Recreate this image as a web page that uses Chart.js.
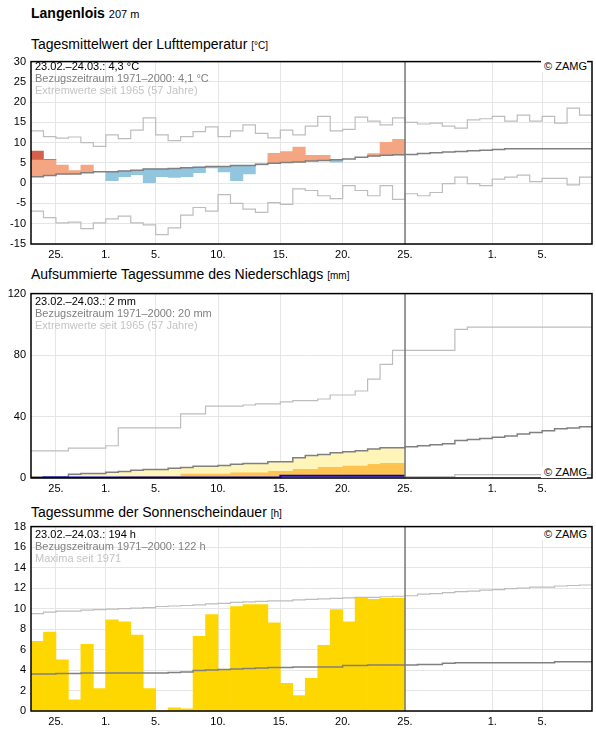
<!DOCTYPE html>
<html lang="de">
<head>
<meta charset="utf-8">
<title>Langenlois 207 m</title>
<script src="https://cdn.jsdelivr.net/npm/chart.js@4.4.1/dist/chart.umd.min.js"></script>
<style>
  body { margin: 0; background: #fff; font-family: Arial, "Liberation Sans", sans-serif; }
  #page { position: relative; width: 596px; height: 729px; overflow: hidden; }
  canvas { position: absolute; left: 0; }
  .head { position: absolute; left: 31px; font-size: 14px; line-height: 14px; white-space: nowrap; color: #000; }
  .head small { font-size: 10px; }
  .station { font-weight: bold; }
  .station span { font-weight: normal; font-size: 11px; }
  .info { position: absolute; left: 35px; font-size: 11px; line-height: 12px; white-space: nowrap; color: #000; }
  .info .ref { color: #808080; }
  .info .ext { color: #c4c4c4; }
  .zamg { position: absolute; right: 9px; font-size: 11px; line-height: 12px; white-space: nowrap; background: #fff; padding-left: 3px; }
</style>
</head>
<body>
<div id="page">
  <div class="head station" style="top:6px">Langenlois <span>207 m</span></div>

  <div class="head" style="top:37px">Tagesmittelwert der Lufttemperatur <small>[°C]</small></div>
  <canvas id="tempChart" width="596" height="210" style="top:50px"></canvas>
  <div class="info" style="top:60px">23.02.–24.03.: 4,3 °C<br><span class="ref">Bezugszeitraum 1971–2000: 4,1 °C</span><br><span class="ext">Extremwerte seit 1965 (57 Jahre)</span></div>
  <div class="zamg" style="top:60px">© ZAMG</div>

  <div class="head" style="top:267px">Aufsummierte Tagessumme des Niederschlags <small>[mm]</small></div>
  <canvas id="rainChart" width="596" height="212" style="top:282px"></canvas>
  <div class="info" style="top:295px">23.02.–24.03.: 2 mm<br><span class="ref">Bezugszeitraum 1971–2000: 20 mm</span><br><span class="ext">Extremwerte seit 1965 (57 Jahre)</span></div>
  <div class="zamg" style="top:466px">© ZAMG</div>

  <div class="head" style="top:505px">Tagessumme der Sonnenscheindauer <small>[h]</small></div>
  <canvas id="sunChart" width="596" height="212" style="top:515px"></canvas>
  <div class="info" style="top:528px">23.02.–24.03.: 194 h<br><span class="ref">Bezugszeitraum 1971–2000: 122 h</span><br><span class="ext">Maxima seit 1971</span></div>
  <div class="zamg" style="top:528px">© ZAMG</div>
</div>

<script>
// x axis: days counted from 23.02. (0) to 09.04. (45)
const days = 45;
const todayIndex = 30; // 25.03.
const xTickPos = [2, 6, 10, 15, 20, 25, 30, 37, 41];
const xTickLabels = ['25.', '1.', '5.', '10.', '15.', '20.', '25.', '1.', '5.'];

// Lufttemperatur (°C)
const tempActual = [7.9, 5.9, 4.5, 3.1, 4.5, 2.8, 0.6, 1.6, 2.1, 0.0, 1.6, 1.4, 1.6, 2.6, 3.8,
  2.8, 0.6, 2.3, 4.5, 7.4, 7.8, 8.9, 6.9, 6.9, 5.2, 6.0, 6.4, 7.3, 10.1, 10.8];
const tempVeryWarm = [5.7, 5.7];
const tempMean = [1.6, 1.9, 2.3, 2.3, 2.6, 2.8, 2.8, 3.0, 3.2, 3.5, 3.5, 3.6, 3.8, 3.95, 4.1,
  4.1, 4.35, 4.35, 4.7, 4.9, 5.1, 5.2, 5.5, 5.6, 5.8, 6.0, 6.4, 6.7, 6.9, 7.0,
  7.1, 7.3, 7.5, 7.7, 7.8, 8.0, 8.1, 8.3, 8.5, 8.5, 8.5, 8.5, 8.5, 8.5, 8.5];
const tempMax = [12.9, 11.5, 11.1, 11.4, 10.0, 9.1, 11.9, 11.0, 13.1, 16.1, 11.9, 10.5, 11.5, 12.7, 13.9,
  11.5, 12.9, 14.4, 12.3, 11.2, 13.1, 11.9, 14.1, 16.5, 12.9, 13.3, 16.3, 15.3, 14.4, 16.1,
  15.0, 14.6, 14.8, 14.1, 13.6, 15.6, 15.9, 16.5, 15.3, 16.8, 15.3, 16.5, 14.8, 18.5, 16.8];
const tempMin = [-6.9, -8.5, -9.8, -9.6, -11.2, -9.8, -8.8, -8.1, -9.8, -10.3, -12.7, -11.0, -7.9, -6.0, -6.9,
  -2.8, -5.0, -6.4, -7.2, -4.8, -5.2, -1.4, -1.8, -3.1, -3.8, -0.6, -1.8, -3.1, -0.6, -4.0,
  -2.6, -3.1, -2.3, -0.1, 1.5, -0.1, -0.6, 1.0, 1.5, 2.0, 0.4, 1.2, 1.2, -0.4, 1.5];

// Niederschlag, aufsummiert (mm)
const rainActual = [0, 0.3, 0.3, 0.3, 0.3, 0.3, 0.3, 0.3, 0.3, 0.3, 0.3, 0.3, 0.3, 0.3, 0.3,
  0.3, 0.3, 0.3, 0.3, 0.3, 1.5, 1.5, 1.5, 1.5, 1.5, 1.5, 1.5, 1.5, 1.5, 1.5];
const rainMedian = [0, 0, 0, 0, 0, 0, 0, 1.1, 1.1, 1.1, 1.1, 1.1, 2.7, 2.7, 2.7,
  2.7, 3.5, 3.5, 3.5, 4.5, 4.5, 5.8, 5.8, 7.1, 7.1, 8.0, 8.0, 9.1, 9.7, 9.7];
const rainMean = [0.7, 0.7, 0.7, 2.4, 3.0, 3.0, 3.7, 4.3, 5.0, 5.6, 5.6, 6.3, 6.9, 7.6, 7.6,
  8.2, 8.9, 9.5, 9.5, 10.6, 10.6, 13.2, 14.7, 15.3, 16.4, 17.1, 17.7, 18.8, 19.7, 19.7,
  20.3, 21.0, 21.6, 22.3, 24.4, 25.0, 25.7, 26.5, 27.4, 28.7, 29.6, 30.7, 32.0, 32.6, 33.3];
const rainMax = [17.7, 17.7, 17.7, 19.4, 19.4, 19.4, 21.0, 32.6, 32.6, 32.6, 32.6, 32.6, 41.7, 41.7, 46.8,
  46.8, 46.8, 47.5, 48.3, 48.3, 49.6, 50.3, 50.3, 51.4, 54.0, 54.0, 56.6, 64.3, 74.0, 83.1,
  83.1, 83.1, 83.1, 83.1, 96.7, 98.2, 98.2, 98.2, 98.2, 98.2, 98.2, 98.2, 98.2, 98.2, 98.2];
const rainMin = [0, 0, 0, 0, 0, 0, 0, 0, 0, 0, 0, 0, 0, 0, 0,
  0, 0, 0, 0, 0, 0, 0, 0.2, 0.2, 0.2, 0.2, 0.2, 0.2, 0.2, 0.2,
  0.9, 0.9, 0.9, 0.9, 2.2, 2.2, 2.2, 2.2, 2.2, 2.2, 2.2, 2.2, 2.2, 2.2, 2.2];

// Sonnenscheindauer (h)
const sunActual = [6.8, 7.7, 5.0, 1.1, 6.5, 2.2, 8.9, 8.7, 7.4, 2.2, 0, 0.3, 0.2, 7.3, 9.4,
  4.0, 10.2, 10.4, 10.4, 8.6, 2.7, 1.5, 3.2, 6.4, 9.9, 8.7, 11.0, 10.9, 11.0, 11.0];
const sunMean = [3.6, 3.6, 3.65, 3.65, 3.7, 3.7, 3.7, 3.7, 3.7, 3.7, 3.7, 3.75, 3.8, 3.95, 4.0,
  4.05, 4.1, 4.15, 4.2, 4.25, 4.25, 4.3, 4.3, 4.3, 4.3, 4.45, 4.45, 4.5, 4.5, 4.5,
  4.5, 4.55, 4.55, 4.65, 4.7, 4.7, 4.7, 4.7, 4.7, 4.7, 4.7, 4.7, 4.8, 4.8, 4.8];
const sunMax = [9.5, 9.65, 9.75, 9.75, 9.85, 9.9, 9.95, 10.0, 10.05, 10.1, 10.2, 10.25, 10.3, 10.35, 10.45,
  10.5, 10.6, 10.65, 10.7, 10.75, 10.75, 10.85, 10.9, 10.95, 11.0, 11.05, 11.1, 11.1, 11.15, 11.2,
  11.25, 11.4, 11.45, 11.55, 11.65, 11.7, 11.8, 11.85, 11.95, 12.0, 12.1, 12.1, 12.2, 12.25, 12.3];

Chart.defaults.font.family = 'Arial, "Liberation Sans", sans-serif';
Chart.defaults.font.size = 11;
Chart.defaults.color = '#000';

const gridColor = '#e6e6e6';
const meanColor = '#808080';
const extremeColor = '#bdbdbd';

// value of day i is drawn from i to i+1
function stepLine(values) {
  const pts = values.map((v, i) => ({ x: i, y: v }));
  pts.push({ x: values.length, y: values[values.length - 1] });
  return pts;
}

function dayBars(values) {
  return values.map((v, i) => ({ x: i + 0.5, y: v }));
}

function line(data, color, width, order, extra) {
  return Object.assign({
    type: 'line', data: stepLine(data), stepped: 'before', borderColor: color,
    borderWidth: width, pointRadius: 0, fill: false, order: order
  }, extra || {});
}

function bars(data, color, order) {
  return {
    type: 'bar', data: data, backgroundColor: color, borderWidth: 0, grouped: false,
    barPercentage: 1, categoryPercentage: 1, order: order
  };
}

const framePlugin = {
  id: 'frame',
  afterDatasetsDraw(chart) {
    const { ctx, chartArea: a } = chart;
    const px = Math.round(chart.scales.x.getPixelForValue(todayIndex));
    ctx.save();
    ctx.strokeStyle = '#7a7a7a';
    ctx.lineWidth = 1.5;
    ctx.beginPath();
    ctx.moveTo(px, a.top);
    ctx.lineTo(px, a.bottom);
    ctx.stroke();
    ctx.strokeStyle = '#000';
    ctx.lineWidth = 1.5;
    ctx.strokeRect(a.left, a.top, a.right - a.left, a.bottom - a.top);
    ctx.restore();
  }
};

function makeChart(id, padTop, yMin, yMax, yStep, datasets) {
  return new Chart(document.getElementById(id), {
    type: 'line',
    data: { datasets: datasets },
    options: {
      responsive: false,
      animation: false,
      events: [],
      devicePixelRatio: 1,
      layout: { padding: { top: padTop, right: 4, left: 0, bottom: 0 } },
      plugins: { legend: { display: false }, tooltip: { enabled: false } },
      scales: {
        x: {
          type: 'linear', min: 0, max: days, offset: false,
          afterBuildTicks: (s) => { s.ticks = xTickPos.map(v => ({ value: v })); },
          afterFit: (s) => { s.height = 16; },
          grid: { color: gridColor, drawTicks: false, offset: false },
          border: { display: false },
          ticks: { padding: 4, maxRotation: 0, autoSkip: false, callback: (v) => xTickLabels[xTickPos.indexOf(v)] }
        },
        y: {
          min: yMin, max: yMax,
          afterFit: (s) => { s.width = 31; },
          grid: { color: gridColor, drawTicks: false },
          border: { display: false },
          ticks: { stepSize: yStep, padding: 5, callback: (v) => String(v) }
        }
      }
    },
    plugins: [framePlugin]
  });
}

// temperature: anomaly bars between climate mean and daily value
const warm = [], veryWarm = [], cold = [];
tempActual.forEach((t, i) => {
  const m = tempMean[i];
  const lim = tempVeryWarm[i];
  if (t > m) warm.push({ x: i + 0.5, y: [m, lim != null ? Math.min(t, lim) : t] });
  if (lim != null && t > lim) veryWarm.push({ x: i + 0.5, y: [lim, t] });
  if (t < m) cold.push({ x: i + 0.5, y: [t, m] });
});

makeChart('tempChart', 9, -15, 30, 5, [
  bars(warm, '#f4a582', 3),
  bars(veryWarm, '#d6604d', 3),
  bars(cold, '#92c5de', 3),
  line(tempMax, extremeColor, 1.2, 2),
  line(tempMin, extremeColor, 1.2, 2),
  line(tempMean, meanColor, 1.5, 1)
]);

makeChart('rainChart', 10, 0, 120, 40, [
  line(rainMean.slice(0, todayIndex), 'rgba(0,0,0,0)', 0, 5, { fill: 'origin', backgroundColor: '#fff5b8' }),
  line(rainMedian, 'rgba(0,0,0,0)', 0, 4, { fill: 'origin', backgroundColor: '#ffc350' }),
  line(rainMax, extremeColor, 1.2, 2),
  line(rainMin, extremeColor, 1.2, 2),
  line(rainMean, meanColor, 1.5, 1),
  line(rainActual, '#0000c8', 2, 0)
]);

makeChart('sunChart', 10, 0, 18, 2, [
  bars(dayBars(sunActual), '#ffd700', 3),
  line(sunMax, extremeColor, 1.2, 2),
  line(sunMean, meanColor, 1.5, 1)
]);
</script>
</body>
